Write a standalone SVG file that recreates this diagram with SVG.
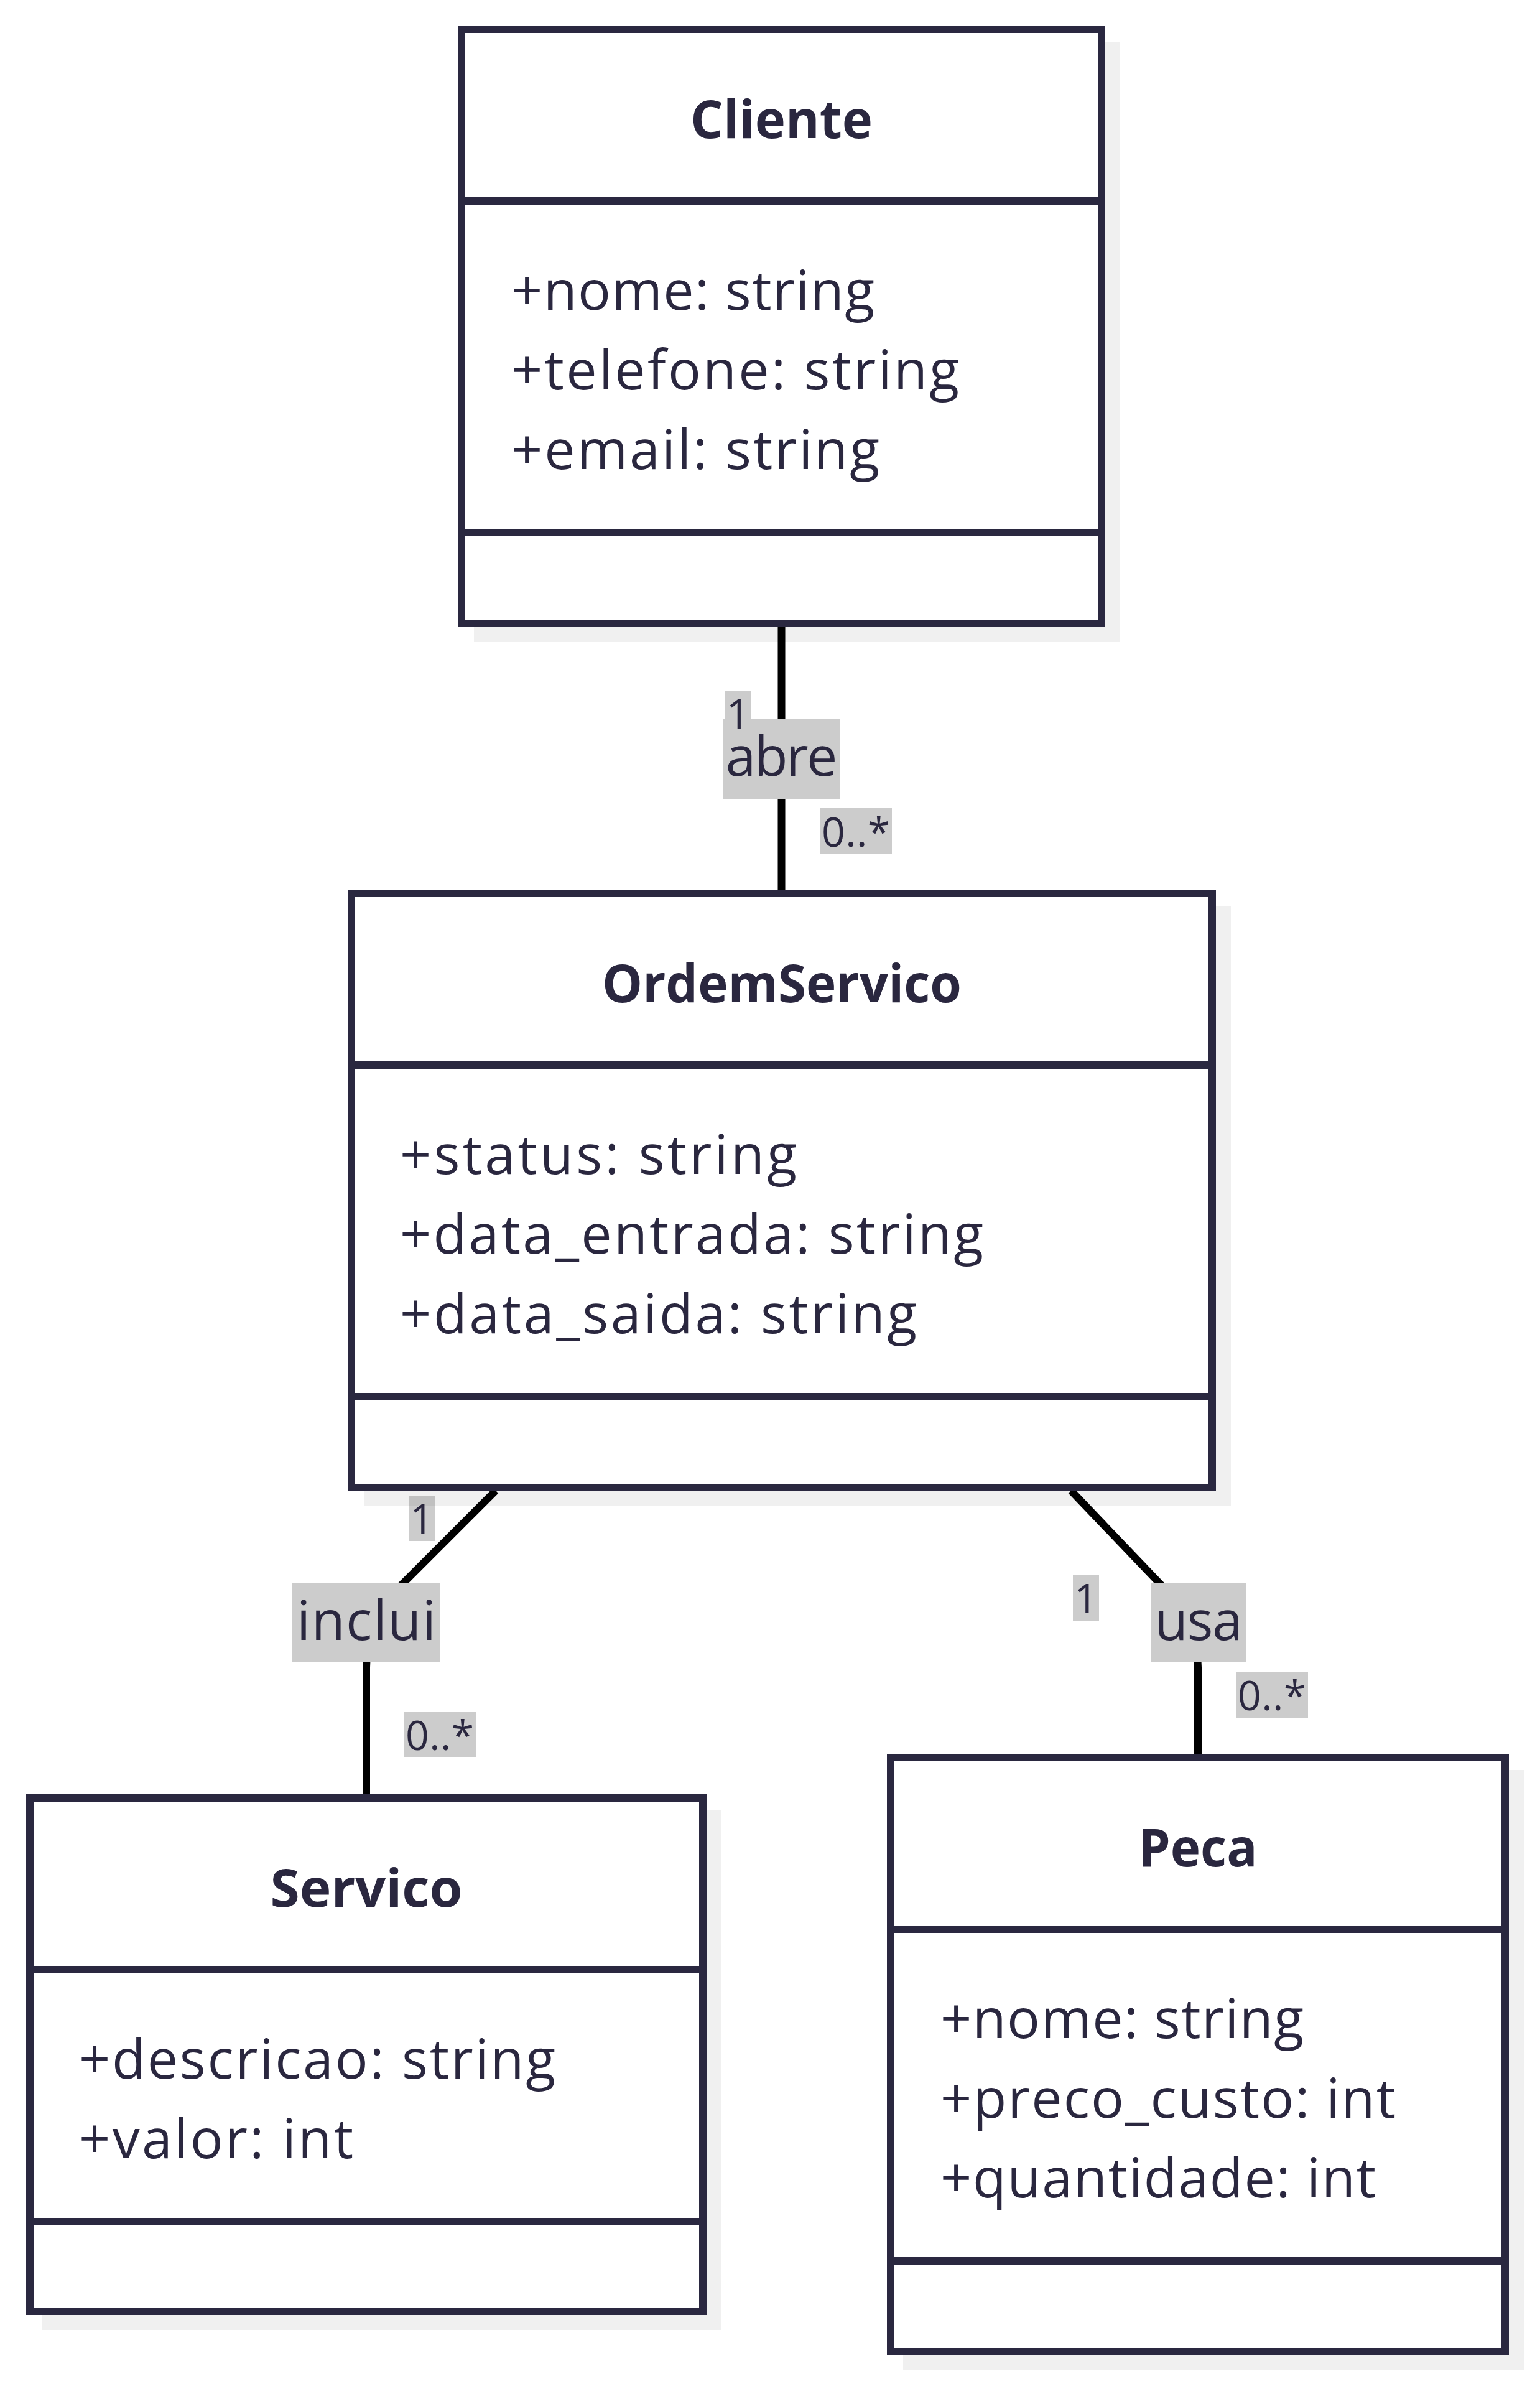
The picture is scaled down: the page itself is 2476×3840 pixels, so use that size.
<svg xmlns="http://www.w3.org/2000/svg" width="2476" height="3840" viewBox="0 0 2476 3840">
<style>
.shadow{fill:#000000;fill-opacity:0.059}
.box{fill:#ffffff;stroke:#2a2840;stroke-width:12}
.div{stroke:#2a2840;stroke-width:12;fill:none}
.title{font-family:"Open Sans","Liberation Sans",sans-serif;font-weight:700;font-size:85px;fill:#2a273f;text-anchor:middle}
.member{font-family:"Open Sans","Liberation Sans",sans-serif;font-size:88px;fill:#2a273f}
.edge{fill:none;stroke:#000000;stroke-width:12}
.lblbg{fill:#cccccc}
.lbl{font-family:"Open Sans","Liberation Sans",sans-serif;font-size:88px;fill:#2a273f;text-anchor:middle}
.card{font-family:"Open Sans","Liberation Sans",sans-serif;font-size:66px;fill:#2a273f;text-anchor:middle}
</style>
<rect x="0" y="0" width="2476" height="3840" fill="#ffffff"/>
<g id="connectors">
  <g id="edge-abre">
    <path class="edge" d="M1256.5,1002 V1436"/>
    <rect class="lblbg" x="1165" y="1110" width="43" height="73"/>
    <rect class="lblbg" x="1162" y="1156" width="189" height="128"/>
    <text class="lbl" x="1256.5" y="1247" textLength="180" lengthAdjust="spacing">abre</text>
    <text class="card" x="1186.5" y="1171">1</text>
    <rect class="lblbg" x="1318" y="1299" width="116" height="73"/>
    <text class="card" x="1376" y="1361" textLength="110" lengthAdjust="spacing">0..*</text>
  </g>
  <g id="edge-inclui">
    <path class="edge" d="M797,2396 L643,2550 Q589,2604 589,2680 V2890"/>
    <rect class="lblbg" x="657" y="2404" width="42" height="73"/>
    <text class="card" x="678" y="2465">1</text>
    <rect class="lblbg" x="470" y="2544" width="238" height="128"/>
    <text class="lbl" x="589" y="2636" textLength="224" lengthAdjust="spacing">inclui</text>
    <rect class="lblbg" x="649" y="2752" width="116" height="72"/>
    <text class="card" x="707" y="2813" textLength="110" lengthAdjust="spacing">0..*</text>
  </g>
  <g id="edge-usa">
    <path class="edge" d="M1722,2396 L1872,2553 Q1926,2610 1926,2680 V2825"/>
    <rect class="lblbg" x="1725" y="2532" width="42" height="73"/>
    <text class="card" x="1746" y="2593">1</text>
    <rect class="lblbg" x="1851" y="2544" width="152" height="128"/>
    <text class="lbl" x="1927" y="2636" textLength="142" lengthAdjust="spacing">usa</text>
    <rect class="lblbg" x="1987" y="2688" width="116" height="73"/>
    <text class="card" x="2045" y="2749" textLength="110" lengthAdjust="spacing">0..*</text>
  </g>
</g>
<g id="node-Cliente">
  <rect class="shadow" x="762" y="67" width="1039" height="965"/>
  <rect class="box" x="742" y="47" width="1029" height="955"/>
  <line class="div" x1="742" y1="323" x2="1771" y2="323"/>
  <line class="div" x1="742" y1="856" x2="1771" y2="856"/>
  <text class="title" x="1256.5" y="222" textLength="293" lengthAdjust="spacingAndGlyphs">Cliente</text>
  <text class="member" x="822" y="498" textLength="584" lengthAdjust="spacing">+nome: string</text>
  <text class="member" x="822" y="626" textLength="720" lengthAdjust="spacing">+telefone: string</text>
  <text class="member" x="822" y="754" textLength="592" lengthAdjust="spacing">+email: string</text>
</g>
<g id="node-OrdemServico">
  <rect class="shadow" x="585" y="1456" width="1394" height="965"/>
  <rect class="box" x="565" y="1436" width="1384" height="955"/>
  <line class="div" x1="565" y1="1712" x2="1949" y2="1712"/>
  <line class="div" x1="565" y1="2245" x2="1949" y2="2245"/>
  <text class="title" x="1257" y="1611" textLength="578" lengthAdjust="spacingAndGlyphs">OrdemServico</text>
  <text class="member" x="643" y="1887" textLength="638" lengthAdjust="spacing">+status: string</text>
  <text class="member" x="643" y="2015" textLength="938" lengthAdjust="spacing">+data_entrada: string</text>
  <text class="member" x="643" y="2143" textLength="831" lengthAdjust="spacing">+data_saida: string</text>
</g>
<g id="node-Servico">
  <rect class="shadow" x="68" y="2910" width="1092" height="835"/>
  <rect class="box" x="48" y="2890" width="1082" height="825"/>
  <line class="div" x1="48" y1="3166" x2="1130" y2="3166"/>
  <line class="div" x1="48" y1="3571" x2="1130" y2="3571"/>
  <text class="title" x="589" y="3065" textLength="309" lengthAdjust="spacingAndGlyphs">Servico</text>
  <text class="member" x="127" y="3341" textLength="766" lengthAdjust="spacing">+descricao: string</text>
  <text class="member" x="127" y="3469" textLength="441" lengthAdjust="spacing">+valor: int</text>
</g>
<g id="node-Peca">
  <rect class="shadow" x="1452" y="2845" width="998" height="965"/>
  <rect class="box" x="1432" y="2825" width="988" height="955"/>
  <line class="div" x1="1432" y1="3101" x2="2420" y2="3101"/>
  <line class="div" x1="1432" y1="3634" x2="2420" y2="3634"/>
  <text class="title" x="1926" y="3000" textLength="191" lengthAdjust="spacingAndGlyphs">Peca</text>
  <text class="member" x="1512" y="3276" textLength="584" lengthAdjust="spacing">+nome: string</text>
  <text class="member" x="1512" y="3404" textLength="732" lengthAdjust="spacing">+preco_custo: int</text>
  <text class="member" x="1512" y="3532" textLength="700" lengthAdjust="spacing">+quantidade: int</text>
</g>
</svg>
